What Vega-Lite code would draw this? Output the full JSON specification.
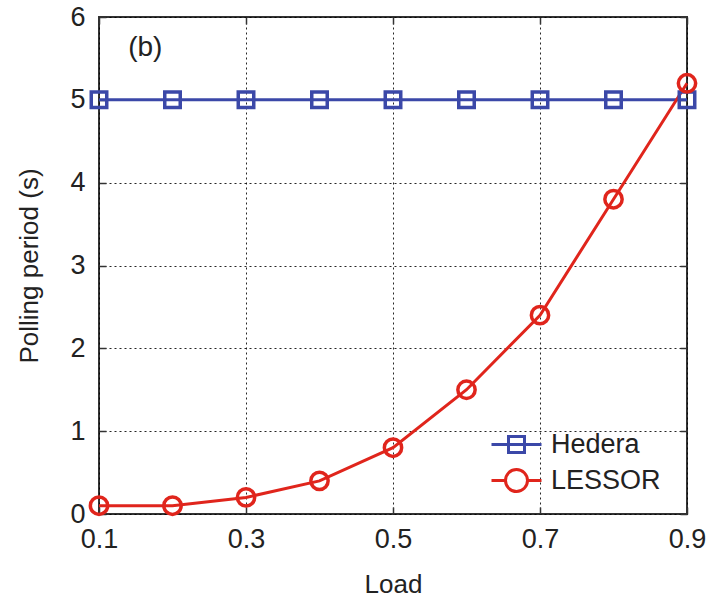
{
  "$schema": "https://vega.github.io/schema/vega-lite/v6.json",
  "width": 588,
  "height": 497,
  "autosize": {"type": "none"},
  "padding": {"left": 99, "top": 17, "right": 25, "bottom": 85},
  "background": "white",
  "config": {
    "font": "Liberation Sans",
    "view": {"stroke": "#333", "strokeWidth": 2},
    "axis": {
      "labelFont": "Liberation Sans",
      "labelFontSize": 27,
      "labelColor": "#222",
      "labelFlush": false,
      "titleFont": "Liberation Sans",
      "titleFontSize": 26,
      "titleColor": "#222",
      "titleFontWeight": "normal",
      "domain": false,
      "tickColor": "#333",
      "tickSize": -7,
      "tickWidth": 1.5,
      "gridColor": "#000",
      "gridDash": [2, 3],
      "gridWidth": 1,
      "gridOpacity": 0.85
    },
    "legend": {
      "labelFont": "Liberation Sans",
      "labelFontSize": 27,
      "labelColor": "#222",
      "symbolSize": 1600,
      "symbolStrokeWidth": 3,
      "rowPadding": 0,
      "labelOffset": 13,
      "padding": 0
    }
  },
  "data": {
    "values": [
      {"load": 0.1, "series": "Hedera", "period": 5},
      {"load": 0.2, "series": "Hedera", "period": 5},
      {"load": 0.3, "series": "Hedera", "period": 5},
      {"load": 0.4, "series": "Hedera", "period": 5},
      {"load": 0.5, "series": "Hedera", "period": 5},
      {"load": 0.6, "series": "Hedera", "period": 5},
      {"load": 0.7, "series": "Hedera", "period": 5},
      {"load": 0.8, "series": "Hedera", "period": 5},
      {"load": 0.9, "series": "Hedera", "period": 5},
      {"load": 0.1, "series": "LESSOR", "period": 0.1},
      {"load": 0.2, "series": "LESSOR", "period": 0.1},
      {"load": 0.3, "series": "LESSOR", "period": 0.2},
      {"load": 0.4, "series": "LESSOR", "period": 0.4},
      {"load": 0.5, "series": "LESSOR", "period": 0.8},
      {"load": 0.6, "series": "LESSOR", "period": 1.5},
      {"load": 0.7, "series": "LESSOR", "period": 2.4},
      {"load": 0.8, "series": "LESSOR", "period": 3.8},
      {"load": 0.9, "series": "LESSOR", "period": 5.2}
    ]
  },
  "layer": [
    {
      "mark": {"type": "line", "strokeWidth": 3, "clip": false},
      "encoding": {
        "x": {
          "field": "load", "type": "quantitative",
          "scale": {"domain": [0.1, 0.9], "nice": false, "zero": false},
          "axis": {"orient": "bottom", "values": [0.1, 0.3, 0.5, 0.7, 0.9], "format": ".1f", "title": "Load", "grid": true, "labelPadding": 19, "titlePadding": 19}
        },
        "y": {
          "field": "period", "type": "quantitative",
          "scale": {"domain": [0, 6], "nice": false},
          "axis": {"orient": "left", "values": [0, 1, 2, 3, 4, 5, 6], "title": "Polling period (s)", "grid": true, "labelPadding": 21, "titlePadding": 27}
        },
        "color": {"field": "series", "type": "nominal", "scale": {"domain": ["Hedera", "LESSOR"], "range": ["#3B48A8", "#E0251C"]}, "legend": null},
        "detail": {"field": "series"}
      }
    },
    {
      "mark": {"type": "point", "filled": false, "strokeWidth": 3.5, "opacity": 1, "clip": false},
      "encoding": {
        "x": {
          "field": "load", "type": "quantitative",
          "scale": {"domain": [0.1, 0.9], "nice": false, "zero": false},
          "axis": {"orient": "top", "values": [0.1, 0.3, 0.5, 0.7, 0.9], "labels": false, "title": null, "grid": false}
        },
        "y": {
          "field": "period", "type": "quantitative",
          "scale": {"domain": [0, 6], "nice": false},
          "axis": {"orient": "right", "values": [0, 1, 2, 3, 4, 5, 6], "labels": false, "title": null, "grid": false}
        },
        "color": {"field": "series", "type": "nominal", "scale": {"domain": ["Hedera", "LESSOR"], "range": ["#3B48A8", "#E0251C"]}, "legend": null},
        "shape": {"field": "series", "type": "nominal", "scale": {"domain": ["Hedera", "LESSOR"], "range": ["square", "circle"]}, "legend": null},
        "size": {"field": "series", "type": "ordinal", "scale": {"domain": ["Hedera", "LESSOR"], "range": [240, 300]}, "legend": null}
      }
    },
    {
      "mark": {"type": "point", "filled": false, "opacity": 0},
      "encoding": {
        "x": {"field": "load", "type": "quantitative", "axis": null},
        "y": {"field": "period", "type": "quantitative", "axis": null},
        "color": {"field": "series", "type": "nominal", "scale": {"domain": ["Hedera", "LESSOR"], "range": ["#3B48A8", "#E0251C"]}, "legend": {"orient": "none", "legendX": 396, "legendY": 406, "title": null}},
        "shape": {"field": "series", "type": "nominal", "scale": {"domain": ["Hedera", "LESSOR"], "range": ["M-1.25,0H1.25M-0.4,-0.4H0.4V0.4H-0.4Z", "M-1.25,0H-0.55M0.55,0H1.25M-0.55,0A0.55,0.55 0 1,0 0.55,0A0.55,0.55 0 1,0 -0.55,0Z"]}, "legend": {"orient": "none", "legendX": 396, "legendY": 406, "title": null}}
      }
    },
    {
      "data": {"values": [{"load": 0.163, "period": 5.63, "label": "(b)"}]},
      "mark": {"type": "text", "fontSize": 28, "font": "Liberation Sans", "color": "#222"},
      "encoding": {
        "x": {"field": "load", "type": "quantitative", "axis": null},
        "y": {"field": "period", "type": "quantitative", "axis": null},
        "text": {"field": "label"}
      }
    }
  ],
  "resolve": {
    "scale": {"color": "independent", "shape": "independent", "size": "independent"},
    "axis": {"x": "independent", "y": "independent"}
  }
}
